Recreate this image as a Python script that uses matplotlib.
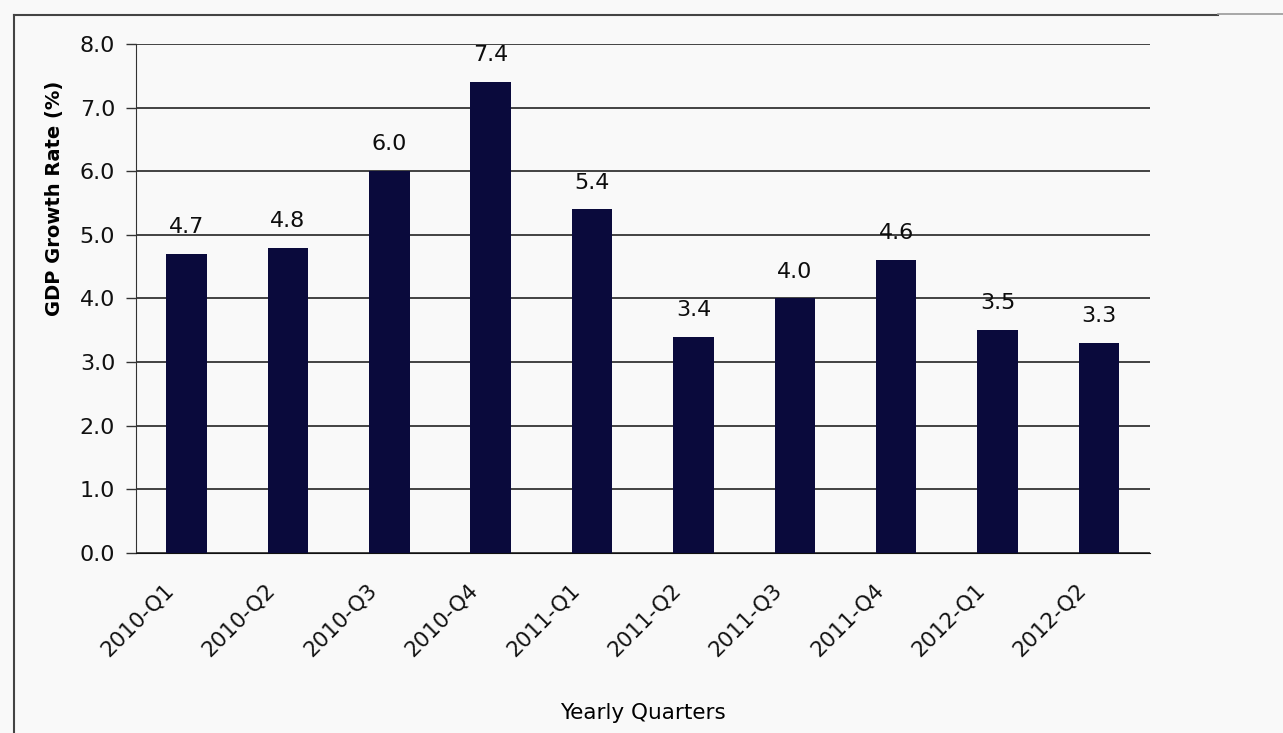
import matplotlib
matplotlib.use("Agg")
import matplotlib.pyplot as plt
from matplotlib.lines import Line2D
from matplotlib.transforms import ScaledTranslation

quarters = ["2010-Q1", "2010-Q2", "2010-Q3", "2010-Q4", "2011-Q1",
            "2011-Q2", "2011-Q3", "2011-Q4", "2012-Q1", "2012-Q2"]
growth = [4.7, 4.8, 6.0, 7.4, 5.4, 3.4, 4.0, 4.6, 3.5, 3.3]
yticks = [0.0, 1.0, 2.0, 3.0, 4.0, 5.0, 6.0, 7.0, 8.0]

plt.rcParams['font.family'] = ['DejaVu Sans']
bg = '#f9f9f9'
fig = plt.figure(figsize=(12.83, 7.33), dpi=100, facecolor=bg)
ax = fig.add_axes([0.106, 0.2456, 0.79, 0.6944])
ax.set_facecolor(bg)

x = list(range(len(quarters)))
ax.bar(x, growth, width=0.4, color='#0a0a3c', zorder=3)
ax.set_xlim(-0.5, len(quarters) - 0.5)
ax.set_ylim(0, 8)
ax.set_yticks(yticks)
ax.set_yticklabels([f"{v:.1f}" for v in yticks], fontsize=16, color='#111111')
ax.yaxis.grid(True, color='#111111', linewidth=1.1, zorder=1)
ax.set_axisbelow(True)

for s in ['top', 'right']:
    ax.spines[s].set_visible(False)
ax.spines['left'].set_color('#333333')
ax.spines['bottom'].set_color('#111111')
ax.tick_params(axis='y', length=7, width=1, color='#333333', pad=8)
ax.tick_params(axis='x', length=0, pad=24)

ax.set_xticks(x)
ax.set_xticklabels(quarters, rotation=45, ha='right', va='center',
                   rotation_mode='anchor', fontsize=15.5, color='#111111')
shift = ScaledTranslation(-16/100, 0, fig.dpi_scale_trans)
for lbl in ax.get_xticklabels():
    lbl.set_transform(lbl.get_transform() + shift)

for xi, v in zip(x, growth):
    ax.annotate(f"{v:.1f}", (xi, v), xytext=(0, 15), textcoords='offset points',
                ha='center', va='baseline', fontsize=16, color='#0d0d0d')

ax.set_ylabel("GDP Growth Rate (%)", fontsize=14, fontweight='bold')
ax.yaxis.set_label_coords(-0.071, 0.697)
ax.set_xlabel("Yearly Quarters", fontsize=15.5)
ax.xaxis.set_label_coords(0.5, -0.295)

# outer frame lines
fig.add_artist(Line2D([14/1283, 14/1283], [0, 1 - 15/733], transform=fig.transFigure,
                      color='#444444', linewidth=1.5))
fig.add_artist(Line2D([14/1283, 1218/1283], [1 - 15/733, 1 - 15/733], transform=fig.transFigure,
                      color='#444444', linewidth=1.5))
fig.add_artist(Line2D([1218/1283, 1.0], [1 - 14/733, 1 - 14/733], transform=fig.transFigure,
                      color='#999999', linewidth=1.2))

fig.savefig("out.png", dpi=100, facecolor=bg)
